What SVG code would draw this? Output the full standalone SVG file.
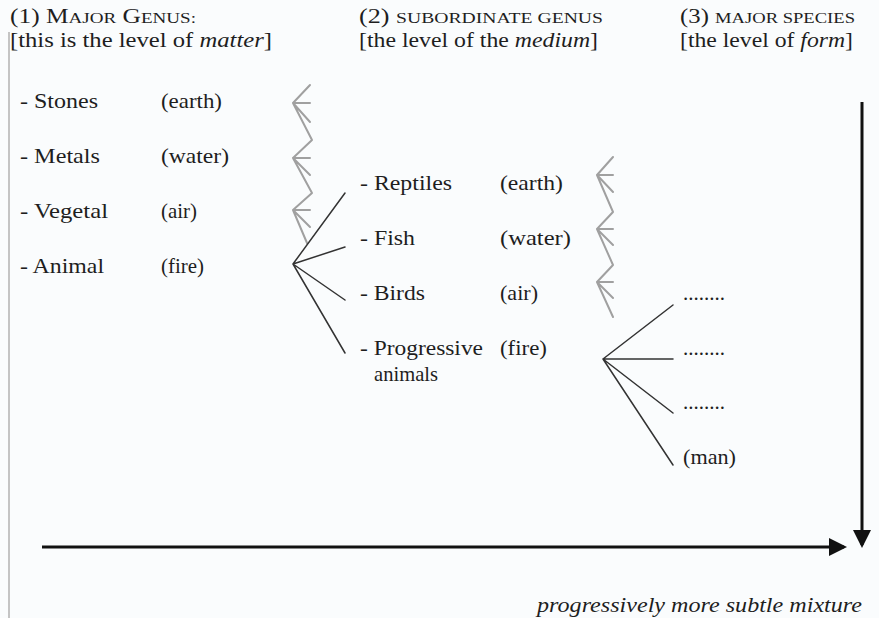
<svg xmlns="http://www.w3.org/2000/svg" width="879" height="618" viewBox="0 0 879 618">
<style>
.sc{font-size:15px}
.it{font-style:italic}
.br{stroke:#333;stroke-width:1.5;fill:none;stroke-linecap:round}
.zz{stroke:#a0a0a0;stroke-width:2;fill:none;stroke-linecap:round;stroke-linejoin:round}
.ax{stroke:#111;stroke-width:3;fill:none}
</style>
<defs>
<marker id="ah" markerWidth="6" markerHeight="6" refX="5" refY="3" orient="auto" markerUnits="strokeWidth">
<path d="M0,0 L6,3 L0,6 Z" fill="#111"/>
</marker>
</defs>
<rect width="879" height="618" fill="#fafcfd"/>
<line x1="9" y1="32" x2="9" y2="618" stroke="#c4c4c4" stroke-width="2"/>

<g font-family="Liberation Serif" font-size="21" fill="#1e1e1e">
<g id="col1-header" font-size="20">
<text x="10" y="23" textLength="186" lengthAdjust="spacingAndGlyphs">(1) M<tspan class="sc">AJOR</tspan> G<tspan class="sc">ENUS:</tspan></text>
<text x="10" y="47" textLength="262" lengthAdjust="spacingAndGlyphs">[this is the level of <tspan class="it">matter</tspan>]</text>
</g>
<g id="col2-header" font-size="20">
<text x="359" y="23" textLength="244" lengthAdjust="spacingAndGlyphs">(2) <tspan class="sc">SUBORDINATE GENUS</tspan></text>
<text x="359" y="47" textLength="239" lengthAdjust="spacingAndGlyphs">[the level of the <tspan class="it">medium</tspan>]</text>
</g>
<g id="col3-header" font-size="20">
<text x="680" y="23" textLength="175" lengthAdjust="spacingAndGlyphs">(3) <tspan class="sc">MAJOR SPECIES</tspan></text>
<text x="680" y="47" textLength="173" lengthAdjust="spacingAndGlyphs">[the level of <tspan class="it">form</tspan>]</text>
</g>

<g id="stones"><text x="20" y="108" textLength="78" lengthAdjust="spacingAndGlyphs">- Stones</text><text x="161" y="108" textLength="61" lengthAdjust="spacingAndGlyphs">(earth)</text></g>
<g id="metals"><text x="20" y="163" textLength="80" lengthAdjust="spacingAndGlyphs">- Metals</text><text x="161" y="163" textLength="68" lengthAdjust="spacingAndGlyphs">(water)</text></g>
<g id="vegetal"><text x="20" y="218" textLength="88" lengthAdjust="spacingAndGlyphs">- Vegetal</text><text x="161" y="218" textLength="36" lengthAdjust="spacingAndGlyphs">(air)</text></g>
<g id="animal"><text x="20" y="273" textLength="84" lengthAdjust="spacingAndGlyphs">- Animal</text><text x="161" y="273" textLength="43" lengthAdjust="spacingAndGlyphs">(fire)</text></g>

<g id="reptiles"><text x="360" y="190" textLength="92" lengthAdjust="spacingAndGlyphs">- Reptiles</text><text x="500" y="190" textLength="63" lengthAdjust="spacingAndGlyphs">(earth)</text></g>
<g id="fish"><text x="360" y="245" textLength="55" lengthAdjust="spacingAndGlyphs">- Fish</text><text x="500" y="245" textLength="71" lengthAdjust="spacingAndGlyphs">(water)</text></g>
<g id="birds"><text x="360" y="300" textLength="65" lengthAdjust="spacingAndGlyphs">- Birds</text><text x="500" y="300" textLength="38" lengthAdjust="spacingAndGlyphs">(air)</text></g>
<g id="progressive"><text x="360" y="355" textLength="123" lengthAdjust="spacingAndGlyphs">- Progressive</text><text x="500" y="355" textLength="47" lengthAdjust="spacingAndGlyphs">(fire)</text><text x="374" y="381" textLength="64" lengthAdjust="spacingAndGlyphs">animals</text></g>

<g id="species1"><text x="683" y="300" textLength="42" lengthAdjust="spacing">........</text></g>
<g id="species2"><text x="683" y="355" textLength="42" lengthAdjust="spacing">........</text></g>
<g id="species3"><text x="683" y="409" textLength="42" lengthAdjust="spacing">........</text></g>
<g id="man"><text x="683" y="464" textLength="53" lengthAdjust="spacingAndGlyphs">(man)</text></g>

<g id="caption"><text x="537" y="612" class="it" textLength="325" lengthAdjust="spacingAndGlyphs">progressively more subtle mixture</text></g>
</g>

<g id="connectors">
<path class="zz" d="M310,85 L293,103 L310,103 M293,103 L310,122 M293,103 L312,140 L293,158 L310,158 M293,158 L310,175 M293,158 L312,193 L293,210 L310,210 M293,210 L310,227 M293,210 L307,243"/>
<path class="zz" d="M613,157 L597,175 L613,175 M597,175 L613,192 M597,175 L613,212 L597,229 L613,229 M597,229 L613,245 M597,229 L613,265 L597,282 L613,282 M597,282 L613,298 M597,282 L613,317"/>
<path class="br" d="M293,264 L345,193 M293,264 L345,247 M293,264 L345,300 M293,264 L345,353"/>
<path class="br" d="M603,359 L673,305 M603,359 L673,359 M603,359 L673,413 M603,359 L673,465"/>
<line class="ax" x1="42" y1="547" x2="844" y2="547" marker-end="url(#ah)"/>
<line class="ax" x1="862" y1="102" x2="862" y2="545" marker-end="url(#ah)"/>
</g>
</svg>
